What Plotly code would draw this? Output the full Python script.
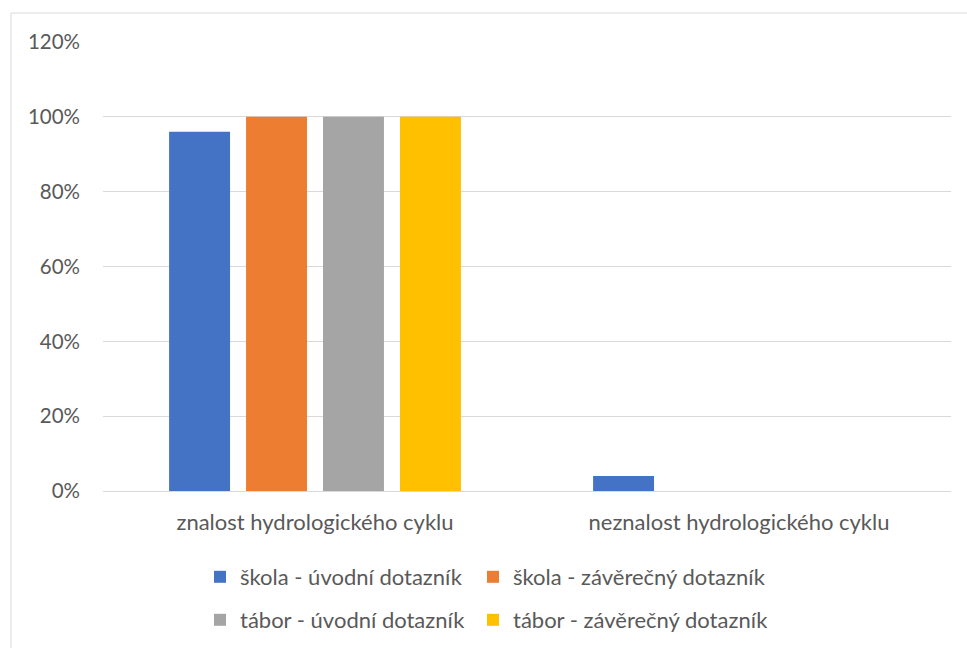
import plotly.graph_objects as go

categories = ["znalost hydrologického cyklu", "neznalost hydrologického cyklu"]
series_names = [
    "škola - úvodní dotazník",
    "škola - závěrečný dotazník",
    "tábor - úvodní dotazník",
    "tábor - závěrečný dotazník",
]
series_values = [
    [0.96, 0.04],
    [1.00, 0.00],
    [1.00, 0.00],
    [1.00, 0.00],
]
colors = ["#4472C4", "#ED7D31", "#A5A5A5", "#FFC000"]

W, H = 967, 648
L, R, T, B = 103, 16, 42, 157
pw, ph = W - L - R, H - T - B


def px_x(x):
    return (x - L) / pw


def px_y(y):
    return (H - B - y) / ph


font = "Lato, 'Open Sans', sans-serif"
grey = "#595959"

# one legend per entry -> 2x2 grid placed in pixels (container coords)
legend_ids = ["legend", "legend2", "legend3", "legend4"]
legend_pos = [(200, 577), (473, 577), (200, 620), (473, 620)]

fig = go.Figure()
for name, vals, col, lg in zip(series_names, series_values, colors, legend_ids):
    fig.add_trace(
        go.Bar(
            x=categories,
            y=vals,
            name=name,
            marker={"color": col, "line": {"width": 0}},
            legend=lg,
            hoverinfo="skip",
        )
    )

# chart outer border (Excel-style)
fig.add_shape(type="line", xref="paper", yref="paper",
              x0=px_x(11), x1=px_x(11), y0=px_y(13), y1=px_y(700),
              line={"color": "#D9D9D9", "width": 1})
fig.add_shape(type="line", xref="paper", yref="paper",
              x0=px_x(11), x1=px_x(1000), y0=px_y(13), y1=px_y(13),
              line={"color": "#D9D9D9", "width": 1})

legends = {}
for lg, (lx, ly) in zip(legend_ids, legend_pos):
    legends[lg] = {
        "xref": "container",
        "yref": "container",
        "x": lx / W,
        "y": 1 - ly / H,
        "xanchor": "left",
        "yanchor": "middle",
        "font": {"family": font, "size": 22, "color": grey},
        "bgcolor": "rgba(0,0,0,0)",
        "itemclick": False,
        "itemdoubleclick": False,
    }

fig.update_layout(
    width=W,
    height=H,
    margin={"l": L, "r": R, "t": T, "b": B, "pad": 0, "autoexpand": False},
    paper_bgcolor="white",
    plot_bgcolor="white",
    barmode="group",
    bargap=0.274,
    bargroupgap=0.208,
    font={"family": font, "size": 20.5, "color": grey},
    xaxis={
        "showgrid": False,
        "showline": False,
        "ticks": "",
        "tickangle": 0,
        "automargin": False,
        "tickfont": {"family": font, "size": 22, "color": grey},
        "ticklabelstandoff": 16,
    },
    yaxis={
        "range": [0, 1.2],
        "dtick": 0.2,
        "tickformat": ".0%",
        "automargin": False,
        "showgrid": True,
        "gridcolor": "#D9D9D9",
        "gridwidth": 1,
        "zeroline": True,
        "zerolinecolor": "#D9D9D9",
        "zerolinewidth": 1,
        "showline": False,
        "ticks": "",
        "ticklabelstandoff": 22,
        "tickfont": {"family": font, "size": 20.5, "color": grey},
    },
    showlegend=True,
    **legends,
)

fig.write_html("out.html", config={"displayModeBar": False},
               post_script="document.body.style.margin='0';")
